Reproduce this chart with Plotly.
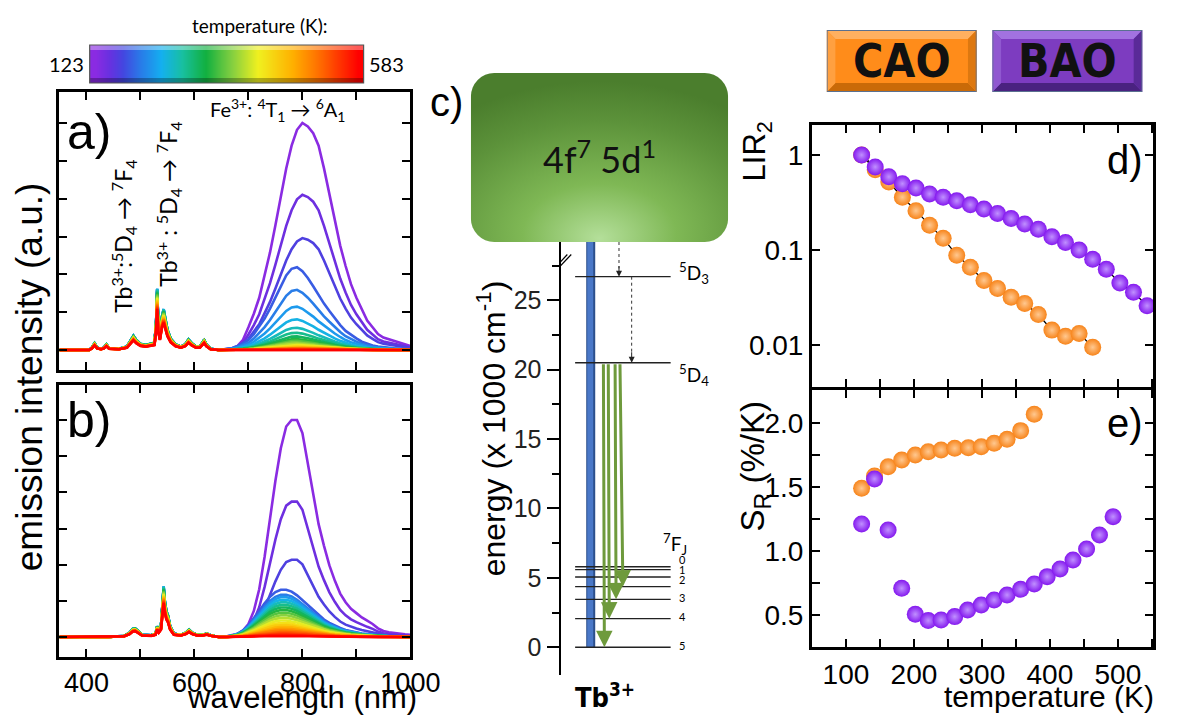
import base64
import plotly.graph_objects as go
import plotly.colors as pc

W, H = 1190, 717


def fx(p):
    return p / W


def fy(p):
    return 1 - p / H


# ---------------- data ----------------
temps = [123, 143, 163, 183, 203, 223, 243, 263, 283, 303, 323, 343,
         363, 383, 403, 423, 443, 463, 483, 503, 523, 543, 563, 583]

# Fe3+ band peak height for each temperature (relative to the 123 K curve)
fe_amp_a = [1.0, 0.684, 0.493, 0.365, 0.265, 0.191, 0.135, 0.098, 0.076, 0.060, 0.048, 0.040,
            0.033, 0.027, 0.022, 0.018, 0.014, 0.011, 0.009, 0.007, 0.005, 0.004, 0.003, 0.002]
fe_amp_b = [1.0, 0.624, 0.356, 0.218, 0.195, 0.184, 0.172, 0.160, 0.148, 0.136, 0.124, 0.112,
            0.100, 0.088, 0.076, 0.065, 0.055, 0.046, 0.038, 0.030, 0.023, 0.016, 0.010, 0.005]
# Tb3+ line strength for each temperature
tb_amp = [0.95, 0.96, 0.97, 0.98, 1.0, 1.0, 1.0, 0.99, 0.97, 0.95, 0.93, 0.91,
          0.89, 0.87, 0.85, 0.83, 0.81, 0.79, 0.77, 0.75, 0.73, 0.71, 0.69, 0.67]

# Tb3+ region
tb_wl_a = [350, 380, 405, 410, 415, 420, 427, 432, 437, 442, 460, 475, 482, 487, 492, 500,
           510, 520, 526, 529, 531, 533, 536, 540, 543, 546, 550, 556, 565, 575, 583, 589,
           595, 603, 610, 614, 618, 622, 630, 645]
tb_prof_a = [0.0, 0.0, 0.0, 0.01, 0.03, 0.01, 0.005, 0.01, 0.025, 0.008, 0.005, 0.015, 0.04, 0.063,
             0.045, 0.027, 0.022, 0.027, 0.032, 0.12, 0.27, 0.12, 0.065, 0.15, 0.18, 0.14, 0.09,
             0.05, 0.025, 0.015, 0.025, 0.047, 0.03, 0.015, 0.015, 0.03, 0.045, 0.025, 0.005, 0.0]
tb_wl_b = [350, 400, 440, 470, 480, 486, 490, 495, 503, 520, 528, 531, 534, 538, 541, 543,
           545, 548, 551, 555, 562, 575, 584, 590, 596, 605, 615, 623, 630, 645]
tb_prof_b = [0.0, 0.0, 0.0, 0.005, 0.02, 0.038, 0.04, 0.03, 0.01, 0.008, 0.015, 0.05, 0.03, 0.05,
             0.15, 0.233, 0.17, 0.12, 0.1, 0.05, 0.015, 0.01, 0.02, 0.034, 0.02, 0.01, 0.01,
             0.016, 0.008, 0.0]

# Fe3+ band shapes
fe_wl = [660, 670, 680, 690, 700, 710, 720, 730, 740, 750, 760, 770, 780, 790, 800, 810, 820, 830,
         840, 850, 860, 870, 880, 890, 900, 910, 920, 930, 940, 950, 960, 970, 980, 990, 1000]
fe_a_hi = [0.003, 0.008, 0.018, 0.045, 0.1, 0.16, 0.23, 0.33, 0.43, 0.55, 0.68, 0.8, 0.9, 0.97,
           1.0, 0.985, 0.955, 0.9, 0.8, 0.69, 0.57, 0.46, 0.37, 0.29, 0.23, 0.18, 0.13, 0.1,
           0.07, 0.055, 0.048, 0.04, 0.032, 0.025, 0.018]
fe_a_lo = [0.01, 0.025, 0.05, 0.08, 0.12, 0.19, 0.28, 0.38, 0.5, 0.63, 0.77, 0.9, 0.98, 1.0,
           0.95, 0.87, 0.77, 0.66, 0.56, 0.47, 0.38, 0.3, 0.23, 0.18, 0.14, 0.1, 0.075, 0.055,
           0.042, 0.033, 0.026, 0.021, 0.017, 0.013, 0.01]
fe_b_hi = [0.003, 0.008, 0.015, 0.03, 0.06, 0.12, 0.22, 0.37, 0.55, 0.72, 0.87, 0.97, 1.0, 1.0,
           0.94, 0.8, 0.66, 0.52, 0.42, 0.33, 0.26, 0.2, 0.16, 0.13, 0.11, 0.09, 0.075, 0.06,
           0.04, 0.028, 0.022, 0.018, 0.015, 0.012, 0.01]
fe_b_lo = [0.01, 0.03, 0.07, 0.14, 0.25, 0.39, 0.55, 0.71, 0.85, 0.95, 1.0, 1.0, 0.96, 0.88,
           0.78, 0.67, 0.56, 0.46, 0.37, 0.3, 0.24, 0.19, 0.15, 0.12, 0.095, 0.075, 0.06, 0.045,
           0.035, 0.027, 0.02, 0.016, 0.012, 0.01, 0.008]

# panel c: energy levels (x 1000 cm-1)
lvl_7F = [5.8, 5.6, 5.06, 4.37, 3.45, 2.06, 0.0]
lvl_7F_labels = ["0", "1", "2", "3", "4", "5"]
lvl_7F_label_y = [6.3, 5.6, 4.9, 3.6, 2.2, 0.15]
lvl_5D3 = 26.7
lvl_5D4 = 20.5
emission_targets = [0.0, 2.06, 3.45, 4.37]

# panel d: LIR2
T_bao_d = [123, 143, 163, 183, 203, 223, 243, 263, 283, 303, 323, 343, 363, 383, 403, 423,
           443, 463, 483, 503, 523, 543]
lir_bao = [1.0, 0.75, 0.59, 0.50, 0.45, 0.39, 0.36, 0.33, 0.30, 0.27, 0.243, 0.215, 0.188,
           0.166, 0.138, 0.12, 0.10, 0.080, 0.063, 0.045, 0.036, 0.026]
T_cao_d = [123, 143, 163, 183, 203, 223, 243, 263, 283, 303, 323, 343, 363, 383, 403, 423, 443, 463]
lir_cao = [1.0, 0.70, 0.52, 0.36, 0.26, 0.183, 0.133, 0.0885, 0.066, 0.048, 0.0395, 0.032,
           0.0275, 0.021, 0.0144, 0.0124, 0.0133, 0.0095]

# panel e: S_R
T_cao_e = [123, 142, 162, 182, 202, 221, 240, 260, 280, 299, 318, 337, 357, 377]
sr_cao = [1.488, 1.584, 1.657, 1.709, 1.748, 1.774, 1.787, 1.80, 1.805, 1.813, 1.839, 1.87,
          1.938, 2.065]
T_bao_e = [123, 142, 162, 182, 202, 221, 240, 260, 279, 299, 318, 337, 357, 377, 396, 415,
           434, 454, 473, 493]
sr_bao = [1.21, 1.561, 1.163, 0.708, 0.505, 0.456, 0.461, 0.487, 0.539, 0.578, 0.617, 0.656,
          0.700, 0.742, 0.799, 0.859, 0.929, 1.015, 1.124, 1.267]

# ---------------- styles ----------------
ARIAL = "Liberation Sans, Arial, sans-serif"
CALIBRI = "Lato, Noto Sans, sans-serif"
NARROW = "Liberation Sans Narrow, DejaVu Sans Condensed, Roboto, sans-serif"
PURPLE = "#8418ee"
ORANGE = "#f7841a"

scale = [[0.0, "#8a2be2"], [0.05, "#6a30e0"], [0.1, "#4545e0"], [0.17, "#2a7ae8"],
         [0.25, "#14b0f0"], [0.33, "#18c0a0"], [0.42, "#12b040"], [0.52, "#86d040"],
         [0.62, "#f0f020"], [0.75, "#ffb000"], [0.87, "#ff6000"], [1.0, "#ff0000"]]
tmin, tmax = temps[0], temps[-1]
line_colors = pc.sample_colorscale(scale, [(t - tmin) / (tmax - tmin) for t in temps])

fig = go.Figure()

# ---------------- spectra a) and b) ----------------
panels = [
    ("x", "y", fe_amp_a, fe_a_hi, fe_a_lo, 3, tb_wl_a, tb_prof_a),
    ("x2", "y2", fe_amp_b, fe_b_hi, fe_b_lo, 3, tb_wl_b, tb_prof_b),
]
for xa, ya, amps, sh_hi, sh_lo, n_hi, twl, tprof in panels:
    for i, t in enumerate(temps):
        shape = sh_hi if i < n_hi else sh_lo
        xs = twl + fe_wl
        ys = [tb_amp[i] * v for v in tprof] + [amps[i] * v for v in shape]
        fig.add_trace(go.Scatter(x=xs, y=ys, mode="lines", xaxis=xa, yaxis=ya,
                                 line=dict(color=line_colors[i], width=2.6),
                                 showlegend=False, hoverinfo="skip",
                                 name=f"{t} K"))

# ---------------- colour bar (temperature) ----------------
fig.add_trace(go.Heatmap(z=[temps, temps], x=temps, y=[0, 1], colorscale=scale,
                         zsmooth="best", showscale=False, xaxis="x6", yaxis="y6",
                         hoverinfo="skip"))

# ---------------- panel d ----------------
fig.add_trace(go.Scatter(x=T_cao_d, y=lir_cao, mode="lines", xaxis="x4", yaxis="y4",
                         line=dict(color="black", width=1.3), showlegend=False))
fig.add_trace(go.Scatter(x=T_bao_d, y=lir_bao, mode="lines", xaxis="x4", yaxis="y4",
                         line=dict(color="black", width=1.3), showlegend=False))
mk_cao = dict(size=17, color=ORANGE, line=dict(width=0),
              gradient=dict(type="radial", color="#ffc890"))
mk_bao = dict(size=17, color=PURPLE, line=dict(width=0),
              gradient=dict(type="radial", color="#c090ff"))
fig.add_trace(go.Scatter(x=T_cao_d, y=lir_cao, mode="markers", xaxis="x4", yaxis="y4",
                         marker=mk_cao, showlegend=False, name="CAO"))
fig.add_trace(go.Scatter(x=T_bao_d, y=lir_bao, mode="markers", xaxis="x4", yaxis="y4",
                         marker=mk_bao, showlegend=False, name="BAO"))

# ---------------- panel e ----------------
fig.add_trace(go.Scatter(x=T_cao_e, y=sr_cao, mode="markers", xaxis="x5", yaxis="y5",
                         marker=mk_cao, showlegend=False, name="CAO"))
fig.add_trace(go.Scatter(x=T_bao_e, y=sr_bao, mode="markers", xaxis="x5", yaxis="y5",
                         marker=mk_bao, showlegend=False, name="BAO"))

# ---------------- axes ----------------
frame = dict(showline=True, linewidth=3, linecolor="black", mirror="allticks",
             ticks="inside", ticklen=8, tickwidth=2, tickcolor="black",
             showgrid=False, zeroline=False, fixedrange=True)

ya_unit, yb_unit = 227.0, 217.0
fig.update_layout(
    xaxis=dict(frame, domain=[fx(61), fx(421)], range=[350, 1000], anchor="y",
               tick0=0, dtick=100, showticklabels=False),
    yaxis=dict(frame, domain=[fy(370), fy(92)], anchor="x",
               range=[-(370 - 350) / ya_unit, (350 - 92) / ya_unit],
               tick0=0, dtick=1 / 6, showticklabels=False),
    xaxis2=dict(frame, domain=[fx(61), fx(421)], range=[350, 1000], anchor="y2",
                tick0=400, dtick=200, showticklabels=True,
                tickfont=dict(family=ARIAL, size=27, color="black"),
                minor=dict(tick0=0, dtick=100, ticks="inside", ticklen=8, tickwidth=2,
                           tickcolor="black")),
    yaxis2=dict(frame, domain=[fy(657), fy(385)], anchor="x2",
                range=[-(657 - 637) / yb_unit, (637 - 385) / yb_unit],
                tick0=0, dtick=1 / 6, showticklabels=False),
    xaxis3=dict(domain=[fx(575), fx(760)], range=[575, 760], anchor="y3", visible=False,
                fixedrange=True),
    yaxis3=dict(domain=[fy(675), fy(242)], range=[-2, 29.2], anchor="x3",
                showline=True, linewidth=2, linecolor="black", showgrid=False,
                zeroline=False, ticks="outside", ticklen=12, tickwidth=2,
                tickcolor="black", tickvals=[0, 5, 10, 15, 20, 25], fixedrange=True,
                tickfont=dict(family=ARIAL, size=25, color="#222"),
                minor=dict(dtick=2.5, tick0=0, ticks="outside", ticklen=7, tickwidth=2,
                           tickcolor="black")),
    xaxis4=dict(frame, domain=[fx(833), fx(1183)], range=[50, 552], anchor="y4",
                tick0=0, dtick=50, showticklabels=False),
    yaxis4=dict(frame, type="log", domain=[fy(387), fy(125)], anchor="x4",
                range=[-2.44, 0.316], tickvals=[0.01, 0.1, 1],
                ticktext=["0.01", "0.1", "1"],
                tickfont=dict(family=ARIAL, size=28, color="black")),
    xaxis5=dict(frame, domain=[fx(833), fx(1183)], range=[50, 552], anchor="y5",
                tick0=0, dtick=100, tickfont=dict(family=ARIAL, size=28, color="black"),
                minor=dict(tick0=0, dtick=50, ticks="inside", ticklen=8, tickwidth=2,
                           tickcolor="black")),
    yaxis5=dict(frame, domain=[fy(647), fy(390)], anchor="x5", range=[0.25, 2.255],
                tick0=0, dtick=0.5, tickformat=".1f",
                tickfont=dict(family=ARIAL, size=28, color="black"),
                minor=dict(tick0=0, dtick=0.25, ticks="inside", ticklen=8, tickwidth=2,
                           tickcolor="black")),
    xaxis6=dict(domain=[fx(92), fx(373)], range=[tmin - 10, tmax + 10], anchor="y6",
                visible=False, fixedrange=True),
    yaxis6=dict(domain=[fy(83), fy(45)], range=[-0.5, 1.5], anchor="x6", visible=False,
                fixedrange=True),
)

# ---------------- shapes ----------------
shapes = []
# colour bar bevel
shapes.append(dict(type="rect", xref="paper", yref="paper", x0=fx(92), x1=fx(373),
                   y0=fy(50), y1=fy(45), fillcolor="rgba(255,255,255,0.35)", line=dict(width=0)))
shapes.append(dict(type="rect", xref="paper", yref="paper", x0=fx(92), x1=fx(373),
                   y0=fy(83), y1=fy(78), fillcolor="rgba(0,0,0,0.28)", line=dict(width=0)))
shapes.append(dict(type="rect", xref="paper", yref="paper", x0=fx(92), x1=fx(373),
                   y0=fy(83), y1=fy(45), line=dict(color="#555", width=1.2)))

# panel c: axis break marks
for dx in (0, 4):
    shapes.append(dict(type="line", xref="x3", yref="y3", x0=570 + dx, x1=582 + dx,
                       y0=27.4, y1=28.3, line=dict(color="black", width=1.2)))
# blue excitation bar
shapes.append(dict(type="line", xref="x3", yref="y3", x0=606, x1=606, y0=0, y1=29.2,
                   line=dict(color="#2c4f8c", width=9)))
shapes.append(dict(type="line", xref="x3", yref="y3", x0=605.5, x1=605.5, y0=0, y1=29.2,
                   line=dict(color="#4a78c8", width=6)))
# levels
for lv in lvl_7F + [lvl_5D3, lvl_5D4]:
    shapes.append(dict(type="line", xref="x3", yref="y3", x0=590, x1=688, y0=lv, y1=lv,
                       line=dict(color="#222", width=1.3)))
# dotted relaxation lines
shapes.append(dict(type="line", xref="x3", yref="y3", x0=635, x1=635, y0=29.2, y1=lvl_5D3 + 0.6,
                   line=dict(color="#333", width=1, dash="dot")))
shapes.append(dict(type="line", xref="x3", yref="y3", x0=648, x1=648, y0=lvl_5D3, y1=lvl_5D4 + 0.6,
                   line=dict(color="#333", width=1, dash="dot")))


# CAO / BAO label boxes and green 5d box as images
def bevel_svg(w, h, base, light, dark, side_l, side_r, b=9):
    svg = (f"<svg xmlns='http://www.w3.org/2000/svg' width='{w}' height='{h}' viewBox='0 0 {w} {h}'>"
           f"<rect width='{w}' height='{h}' fill='{base}'/>"
           f"<polygon points='0,0 {w},0 {w-b},{b} {b},{b}' fill='{light}'/>"
           f"<polygon points='0,{h} {w},{h} {w-b},{h-b} {b},{h-b}' fill='{dark}'/>"
           f"<polygon points='0,0 {b},{b} {b},{h-b} 0,{h}' fill='{side_l}'/>"
           f"<polygon points='{w},0 {w-b},{b} {w-b},{h-b} {w},{h}' fill='{side_r}'/>"
           f"<rect x='0.5' y='0.5' width='{w-1}' height='{h-1}' fill='none' stroke='#5a7090' stroke-width='1'/>"
           f"</svg>")
    return "data:image/svg+xml;base64," + base64.b64encode(svg.encode()).decode()


green_svg = ("<svg xmlns='http://www.w3.org/2000/svg' width='264' height='169' viewBox='0 0 264 169'>"
             "<defs><radialGradient id='g' cx='0.5' cy='0.9' r='0.85' fx='0.5' fy='0.98'>"
             "<stop offset='0' stop-color='#b4df9a'/>"
             "<stop offset='0.35' stop-color='#7fb855'/>"
             "<stop offset='0.75' stop-color='#5c923a'/>"
             "<stop offset='1' stop-color='#4b7e2d'/>"
             "</radialGradient></defs>"
             "<rect x='0' y='0' width='264' height='169' rx='24' ry='24' fill='url(#g)'/></svg>")
green_src = "data:image/svg+xml;base64," + base64.b64encode(green_svg.encode()).decode()

images = [
    dict(source=green_src, xref="paper", yref="paper", x=fx(483), y=fy(73),
         sizex=fx(747) - fx(483), sizey=fy(73) - fy(242), xanchor="left", yanchor="top",
         sizing="stretch", layer="above"),
    dict(source=bevel_svg(154, 62, "#ff8c1a", "#ffb060", "#c96a08", "#ffa040", "#dd7810"),
         xref="paper", yref="paper", x=fx(848), y=fy(30), sizex=fx(1002) - fx(848),
         sizey=fy(30) - fy(92), xanchor="left", yanchor="top", sizing="stretch", layer="above"),
    dict(source=bevel_svg(154, 62, "#7d3cc0", "#a272e0", "#4a2280", "#9058d0", "#5a2a98"),
         xref="paper", yref="paper", x=fx(1018), y=fy(30), sizex=fx(1172) - fx(1018),
         sizey=fy(30) - fy(92), xanchor="left", yanchor="top", sizing="stretch", layer="above"),
]

# ---------------- annotations ----------------
ann = []


def text(x, y, s, size, family=ARIAL, color="black", angle=0, xanchor="center",
         yanchor="middle", ref=("paper", "paper")):
    ann.append(dict(x=x, y=y, xref=ref[0], yref=ref[1], text=s, showarrow=False,
                    font=dict(family=family, size=size, color=color), textangle=angle,
                    xanchor=xanchor, yanchor=yanchor))


text(fx(267), fy(25), "temperature (K):", 19, CALIBRI)
text(fx(88), fy(64), "123", 20, CALIBRI, xanchor="right")
text(fx(377), fy(64), "583", 20, CALIBRI, xanchor="left")
text(fx(285), fy(110), "Fe<sup>3+</sup>: <sup>4</sup>T<sub>1</sub> → <sup>6</sup>A<sub>1</sub>",
     20, CALIBRI)
text(fx(127), fy(236), "Tb<sup>3+</sup>:<sup>5</sup>D<sub>4</sub> → <sup>7</sup>F<sub>4</sub>",
     23, CALIBRI, angle=-90)
text(fx(172), fy(204), "Tb<sup>3+</sup> : <sup>5</sup>D<sub>4</sub> → <sup>7</sup>F<sub>4</sub>",
     23, CALIBRI, angle=-90)
text(fx(67), fy(132), "a)", 50, ARIAL, xanchor="left")
text(fx(67), fy(420), "b)", 50, ARIAL, xanchor="left")
text(fx(30), fy(377), "emission intensity (a.u.)", 37, ARIAL, angle=-90)
text(fx(310), 0, "wavelength (nm)", 31, ARIAL, yanchor="bottom")
text(fx(458), fy(102), "c)", 40, ARIAL)
text(fx(615), fy(157), "4f<sup>7</sup> 5d<sup>1</sup>", 36, CALIBRI, color="#111")
text(fx(504), fy(428), "energy (x 1000 cm<sup>-1</sup>)", 32, ARIAL, angle=-90)
text(fx(621), fy(695), "<b>Tb<sup>3+</sup></b>", 27, NARROW)
text(fx(694), fy(273), "<sup>5</sup>D<sub>3</sub>", 19, CALIBRI, xanchor="left")
text(fx(694), fy(375), "<sup>5</sup>D<sub>4</sub>", 19, CALIBRI, xanchor="left")
text(fx(678), fy(544), "<sup>7</sup>F<sub>J</sub>", 19, CALIBRI, xanchor="left")
for lab, yv in zip(lvl_7F_labels, lvl_7F_label_y):
    text(700, yv, lab, 11, CALIBRI, xanchor="center", ref=("x3", "y3"))
text(fx(925), fy(61), "<b>CAO</b>", 46, NARROW, color="#111")
text(fx(1095), fy(61), "<b>BAO</b>", 46, NARROW, color="#111")
text(fx(777), fy(151), "LIR<sub>2</sub>", 31, ARIAL, angle=-90)
text(fx(775), fy(466), "S<sub>R</sub> (%/K)", 33, ARIAL, angle=-90)
text(fx(1186), fy(696), "temperature (K)", 30, ARIAL, xanchor="right")
text(fx(1175), fy(160), "d)", 40, ARIAL, xanchor="right")
text(fx(1175), fy(423), "e)", 40, ARIAL, xanchor="right")

# arrowheads for dotted relaxation lines
for xv, yv in ((635, lvl_5D3), (648, lvl_5D4)):
    ann.append(dict(x=xv, y=yv, xref="x3", yref="y3", ax=0, ay=-12, text="", showarrow=True,
                    arrowhead=2, arrowsize=1.2, arrowwidth=1, arrowcolor="#222"))
# green emission arrows from 5D4 to 7FJ
x_top = [619, 624, 631, 636]
x_bot = [620, 625, 632, 639]
for xt, xb, yt in zip(x_top, x_bot, emission_targets):
    ann.append(dict(x=xb, y=yt, xref="x3", yref="y3", ax=xt, ay=lvl_5D4, axref="x3",
                    ayref="y3", text="", showarrow=True, arrowhead=2, arrowsize=1.1,
                    arrowwidth=3, arrowcolor="#6e9a3c"))

fig.update_layout(
    width=W, height=H, autosize=False,
    margin=dict(l=0, r=0, t=0, b=0),
    paper_bgcolor="white", plot_bgcolor="white",
    showlegend=False, dragmode=False, hovermode=False,
    shapes=shapes, images=images, annotations=ann,
    font=dict(family=ARIAL, color="black"),
)

fig.write_html("out.html",
               config={"staticPlot": True, "displayModeBar": False, "responsive": False})
